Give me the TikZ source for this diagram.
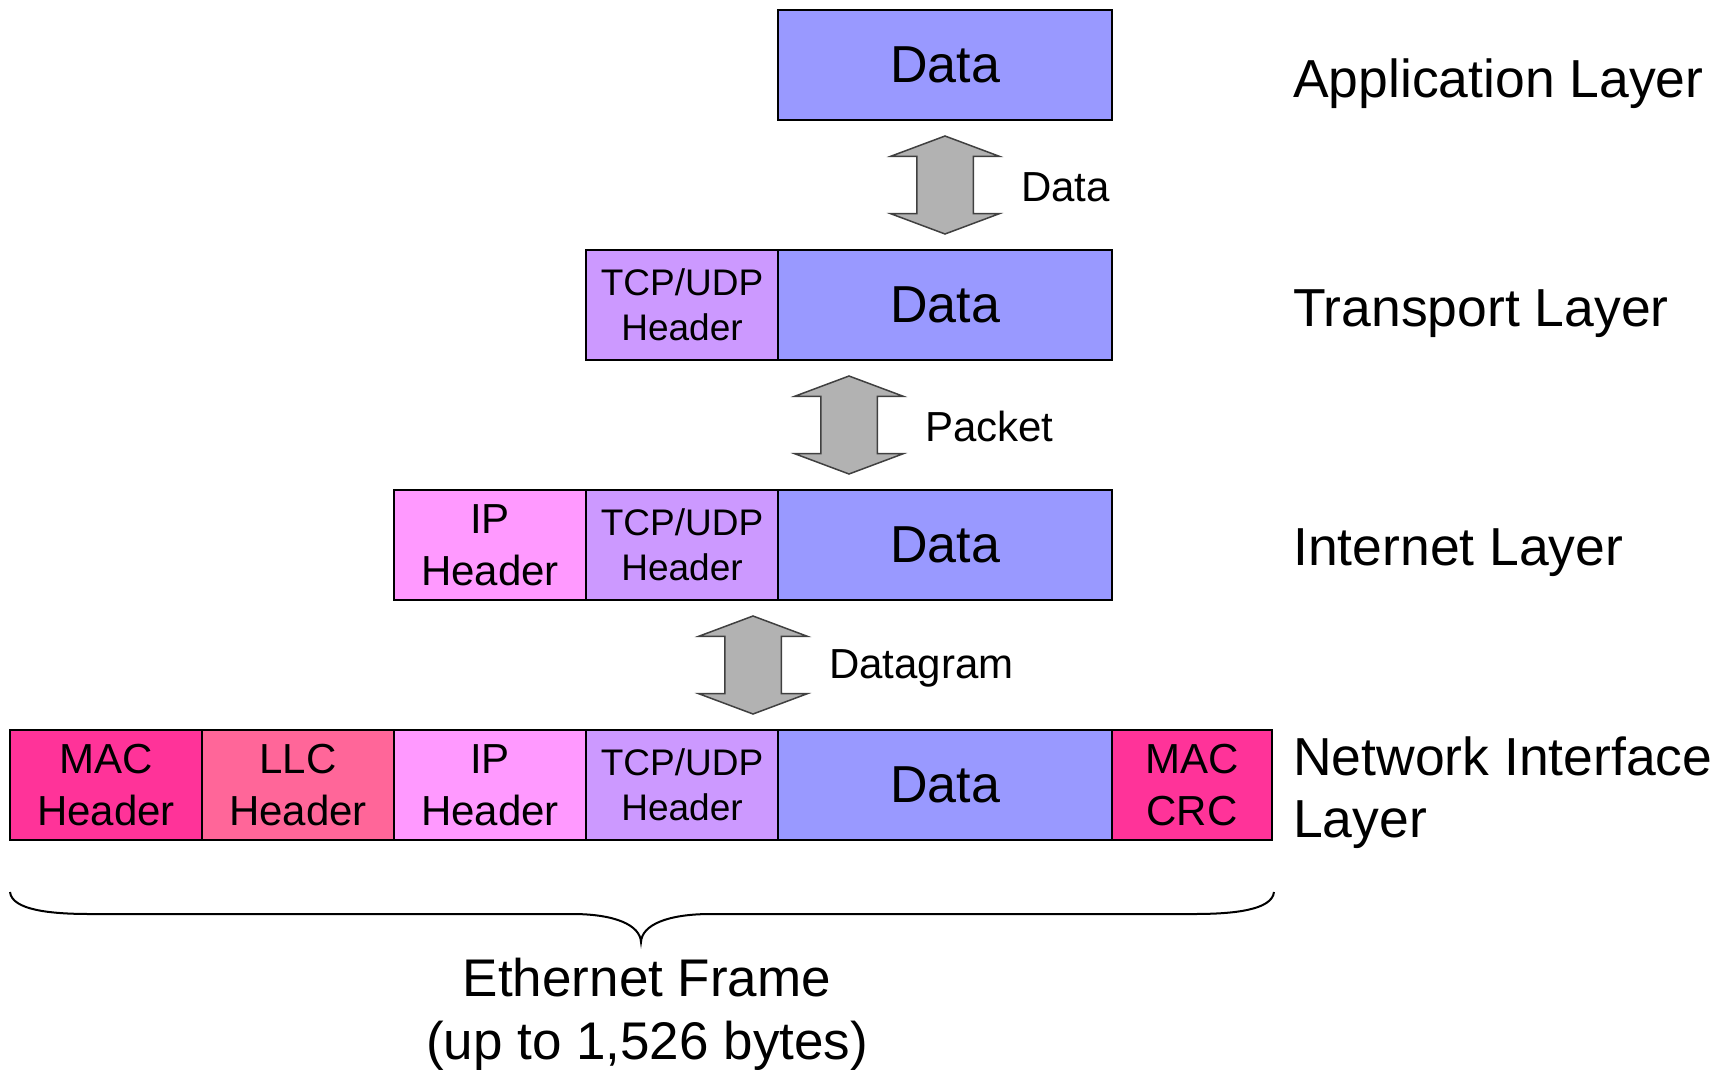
\documentclass[tikz,border=0pt]{standalone}
\usepackage{tikz}
\usetikzlibrary{shapes.arrows}
\usepackage{xcolor}
\usepackage{fontspec}
\setmainfont{Liberation Sans}

\definecolor{datablue}{HTML}{9999FF}
\definecolor{tcpviolet}{HTML}{CC99FF}
\definecolor{ippink}{HTML}{FF99FF}
\definecolor{llcrose}{HTML}{FF6699}
\definecolor{macred}{HTML}{FF3399}
\definecolor{arrowgray}{HTML}{B2B2B2}

\begin{document}
\begin{tikzpicture}[x=1pt,y=-1pt]
    \tikzset{cellbox/.style = {draw, line width=2pt, minimum height=110pt, inner sep=0pt, outer sep=0pt, align=center}}
    \tikzset{hdrbox/.style = {cellbox, minimum width=192pt, font=\fontsize{42}{52}\selectfont}}
    \tikzset{tcpbox/.style = {cellbox, minimum width=192pt, fill=tcpviolet, font=\fontsize{37}{45}\selectfont}}
    \tikzset{databox/.style = {cellbox, minimum width=334pt, fill=datablue, font=\fontsize{52}{62}\selectfont}}
    \tikzset{updown/.style = {double arrow, draw=black!75, fill=arrowgray, line width=1.5pt, rotate=90,
        minimum height=98pt, minimum width=107pt, double arrow head extend=26pt,
        double arrow tip angle=139, inner xsep=0pt, inner ysep=27.5pt}}
    \tikzset{arrowlbl/.style = {anchor=west, inner sep=0pt, font=\fontsize{42}{52}\selectfont}}
    \tikzset{layerlbl/.style = {anchor=west, inner sep=0pt, align=left, font=\fontsize{53.5}{62}\selectfont}}

    \useasboundingbox (0,0) rectangle (1729,1070);

    % application layer
    \node[databox] (appdata) at (945,65) {Data};

    % transport layer
    \node[tcpbox] (tcp1) at (682,305) {TCP/UDP\\Header};
    \node[databox] (data1) at (945,305) {Data};

    % internet layer
    \node[hdrbox, fill=ippink] (ip2) at (490,545) {IP\\Header};
    \node[tcpbox] (tcp2) at (682,545) {TCP/UDP\\Header};
    \node[databox] (data2) at (945,545) {Data};

    % network interface layer
    \node[hdrbox, fill=macred] (mac3) at (106,785) {MAC\\Header};
    \node[hdrbox, fill=llcrose] (llc3) at (298,785) {LLC\\Header};
    \node[hdrbox, fill=ippink] (ip3) at (490,785) {IP\\Header};
    \node[tcpbox] (tcp3) at (682,785) {TCP/UDP\\Header};
    \node[databox] (data3) at (945,785) {Data};
    \node[hdrbox, minimum width=160pt, fill=macred] (crc3) at (1192,785) {MAC\\CRC};

    % arrows between layers
    \node[updown] (arr1) at (945,185) {};
    \node[updown] (arr2) at (849,425) {};
    \node[updown] (arr3) at (753,665) {};
    \node[arrowlbl] (lbl1) at (1021,187) {Data};
    \node[arrowlbl] (lbl2) at (925,426) {Packet};
    \node[arrowlbl] (lbl3) at (829,668) {Datagram};

    % layer names
    \node[layerlbl] (appname) at (1293,84) {Application Layer};
    \node[layerlbl] (tcpname) at (1293,314) {Transport Layer};
    \node[layerlbl] (ipname) at (1293,553) {Internet Layer};
    \node[layerlbl] (netname) at (1293,793) {Network Interface\\Layer};

    % frame brace
    \draw[line width=2pt] (10,892) .. controls (12,910) and (50,914) .. (90,914) -- (572,914)
        .. controls (615,914) and (640,925) .. (641,942)
        .. controls (642,925) and (667,914) .. (711,914) -- (1194,914)
        .. controls (1234,914) and (1272,910) .. (1274,892);
    \node[align=center, font=\fontsize{53}{63}\selectfont] (frame) at (647,1014) {Ethernet Frame\\(up to 1,526 bytes)};
\end{tikzpicture}
\end{document}
